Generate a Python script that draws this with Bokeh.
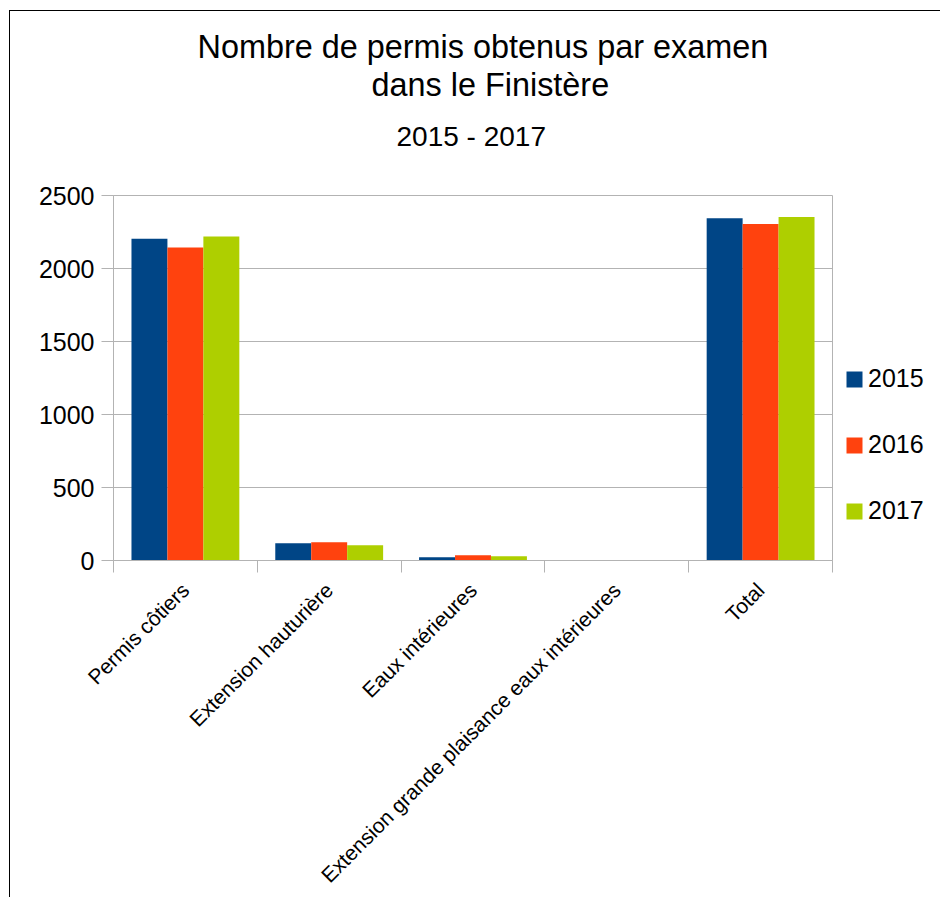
import math
from bokeh.plotting import figure
from bokeh.layouts import row
from bokeh.models import (ColumnDataSource, FactorRange, Range1d, LinearAxis, CategoricalAxis,
                          FixedTicker, SingleIntervalTicker, Legend, LegendItem, Title)
from bokeh.transform import dodge
from bokeh.embed import file_html
from bokeh.resources import INLINE

# ---- data ----
categories = ["Permis côtiers", "Extension hauturière", "Eaux intérieures",
              "Extension grande plaisance eaux intérieures", "Total"]
years = ["2015", "2016", "2017"]
v2015 = [2204, 118, 23, 0, 2345]
v2016 = [2144, 125, 36, 0, 2305]
v2017 = [2219, 105, 29, 0, 2353]
y_max = 2500
y_step = 500
title_lines = ["Nombre de permis obtenus par examen", "dans le Finistère"]
subtitle = "2015 - 2017"
colors = ["#004586", "#ff420e", "#aecf00"]

FONT = "Liberation Sans"
GRAY = "#b3b3b3"

source = ColumnDataSource(dict(cat=categories, y2015=v2015, y2016=v2016, y2017=v2017))

H = 886
p = figure(x_range=FactorRange(*categories), y_range=Range1d(0, y_max),
           width=823, height=H, output_backend="svg", toolbar_location=None,
           x_axis_location=None,
           min_border_left=103, min_border_right=1,
           min_border_top=184, min_border_bottom=H - 184 - 365)

p.background_fill_color = "white"
p.border_fill_color = "white"
p.outline_line_color = GRAY
p.outline_line_width = 1

offsets = [-0.25, 0.0, 0.25]
for yr, col, off in zip(years, colors, offsets):
    p.vbar(x=dodge("cat", off, range=p.x_range), top="y" + yr, width=0.25,
           source=source, fill_color=col, line_color=None)

# y axis
yax = p.yaxis[0]
yax.ticker = SingleIntervalTicker(interval=y_step, num_minor_ticks=0)
yax.axis_line_color = GRAY
yax.major_tick_line_color = GRAY
yax.major_tick_out = 12
yax.major_tick_in = 0
yax.minor_tick_line_color = None
yax.major_label_text_font = FONT
yax.major_label_text_font_size = "25px"
yax.major_label_text_color = "black"
yax.major_label_standoff = 7

p.ygrid.grid_line_color = GRAY
p.xgrid.visible = False

# x axis: boundary ticks
tick_axis = LinearAxis(ticker=FixedTicker(ticks=list(range(len(categories) + 1))))
tick_axis.axis_line_color = GRAY
tick_axis.major_tick_line_color = GRAY
tick_axis.major_tick_out = 12
tick_axis.major_tick_in = 0
tick_axis.minor_tick_line_color = None
tick_axis.major_label_overrides = {i: "" for i in range(len(categories) + 1)}
tick_axis.major_label_text_font_size = "0px"
tick_axis.major_label_standoff = 0
p.add_layout(tick_axis, "below")

cat_axis = CategoricalAxis()
cat_axis.axis_line_color = None
cat_axis.major_tick_line_color = None
cat_axis.minor_tick_line_color = None
cat_axis.major_tick_out = 0
cat_axis.major_tick_in = 0
cat_axis.major_label_orientation = math.pi / 4
cat_axis.major_label_text_font = FONT
cat_axis.major_label_text_font_size = "21px"
cat_axis.major_label_text_color = "black"
cat_axis.major_label_standoff = 14
p.add_layout(cat_axis, "below")

# titles (first added is nearest the plot); a blank spacer first
p.add_layout(Title(text=" ", standoff=15, text_font=FONT, text_font_size="10px"), "above")
for txt, off, size, so in [(subtitle, 283, "28px", 32),
                           (title_lines[1], 258, "32.4px", 0),
                           (title_lines[0], 84, "32.4px", 0)]:
    p.add_layout(Title(text=txt, align="left", offset=off, standoff=so,
                       text_font=FONT, text_font_size=size, text_font_style="normal",
                       text_color="black"), "above")

# legend panel to the right of the chart (its frame is aligned with the chart's)
pl = figure(width=107, height=H, output_backend="svg", toolbar_location=None,
            x_axis_location=None, y_axis_location=None, min_border=0,
            x_range=Range1d(0, 1), y_range=Range1d(0, 1))
pl.grid.visible = False
pl.outline_line_color = None
pl.background_fill_color = "white"
pl.border_fill_color = "white"
legend_src = ColumnDataSource(dict(x=[0.5], top=[0]))   # zero-height proxy bars
items = []
for yr, col in zip(years, colors):
    r = pl.vbar(x="x", top="top", width=0.25, source=legend_src,
                fill_color=col, line_color=None)
    items.append(LegendItem(label=yr, renderers=[r]))
legend = Legend(items=items, location="top_left", orientation="vertical",
                padding=0, margin=11, spacing=37, glyph_width=20, glyph_height=20,
                label_standoff=4, label_text_font=FONT, label_text_font_size="25px",
                label_text_color="black",
                title=" ", title_text_font_size="10px", title_standoff=147,
                border_line_color=None, background_fill_alpha=0)
pl.add_layout(legend, "center")

layout = row(p, pl, spacing=0,
             styles={"border-left": "1px solid #000", "border-top": "1px solid #000"},
             margin=(10, 0, 0, 9))

open("out.html", "w").write(file_html(layout, INLINE))
